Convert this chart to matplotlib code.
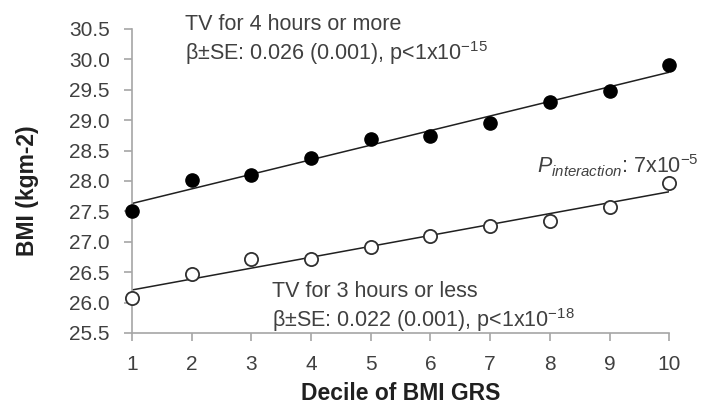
import matplotlib
matplotlib.use("Agg")
import matplotlib.pyplot as plt
import numpy as np

plt.rcParams['font.family'] = ['Liberation Sans', 'DejaVu Sans']
plt.rcParams['mathtext.fontset'] = 'custom'
plt.rcParams['mathtext.rm'] = 'Liberation Sans'
plt.rcParams['mathtext.it'] = 'Liberation Sans:italic'

# data
deciles = [1, 2, 3, 4, 5, 6, 7, 8, 9, 10]
bmi_tv4 = [27.51, 28.02, 28.10, 28.38, 28.69, 28.74, 28.95, 29.30, 29.48, 29.91]
bmi_tv3 = [26.08, 26.47, 26.72, 26.72, 26.91, 27.10, 27.26, 27.34, 27.57, 27.97]
yticks = [25.5, 26.0, 26.5, 27.0, 27.5, 28.0, 28.5, 29.0, 29.5, 30.0, 30.5]

txt = '#404040'
axc = '#a6a6a6'

fig = plt.figure(figsize=(7.09, 4.07), dpi=100)
ax = fig.add_axes([0.186, 0.182, 0.758, 0.747])

x = np.asarray(deciles)
for vals in (bmi_tv4, bmi_tv3):
    k, b = np.polyfit(x, vals, 1)
    ax.plot(x, k * x + b, color='#202020', lw=1.1, zorder=2)

ax.plot(x, bmi_tv4, 'o', color='black', ms=9.5, clip_on=False, zorder=3)
ax.plot(x, bmi_tv3, 'o', mfc='white', mec='#303030', mew=1.3, ms=9.5,
        clip_on=False, zorder=3)

ax.set_xlim(1, 10)
ax.set_ylim(25.5, 30.5)
ax.set_xticks(deciles)
ax.set_yticks(yticks)
ax.set_yticklabels(['%.1f' % v for v in yticks])
for s in ['top', 'right']:
    ax.spines[s].set_visible(False)
for s in ['left', 'bottom']:
    ax.spines[s].set_color(axc)
    ax.spines[s].set_linewidth(1.2)
ax.tick_params(colors=axc, labelcolor=txt, labelsize=15, length=6, width=1.2)
ax.tick_params(axis='x', pad=10)
ax.tick_params(axis='y', pad=10)

ax.set_xlabel('Decile of BMI GRS', fontsize=16.5, fontweight='bold',
              color='#202020', labelpad=6)
ax.set_ylabel('BMI (kgm-2)', fontsize=16.5, fontweight='bold',
              color='#202020', va='center')
ax.yaxis.set_label_coords(-0.195, 0.467)

fs = 15.5
fig.text(185 / 709, 1 - 30 / 407, 'TV for 4 hours or more', fontsize=fs,
         color=txt, va='baseline')
fig.text(185 / 709, 1 - 60 / 407,
         r'β±SE: 0.026 (0.001), p<1x10$^{-15}$', fontsize=fs,
         color=txt, va='baseline')
fig.text(537 / 709, 1 - 173 / 407,
         r'$\mathit{P}_{\mathit{interaction}}$: 7x10$^{-5}$', fontsize=fs,
         color=txt, va='baseline')
fig.text(272 / 709, 1 - 297 / 407, 'TV for 3 hours or less', fontsize=fs,
         color=txt, va='baseline')
fig.text(272 / 709, 1 - 327 / 407,
         r'β±SE: 0.022 (0.001), p<1x10$^{-18}$', fontsize=fs,
         color=txt, va='baseline')

fig.savefig('out.png', dpi=100)
